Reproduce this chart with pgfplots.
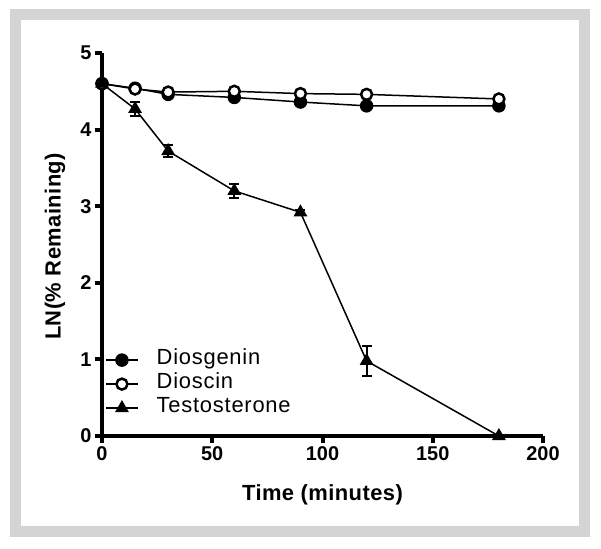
\documentclass[border=0pt]{standalone}
\usepackage{fontspec}
\setmainfont{Liberation Sans}
\newfontfamily\legfont[LetterSpace=3.5]{Liberation Sans}
\newfontfamily\labfont[LetterSpace=2]{Liberation Sans}
\usepackage{pgfplots}
\pgfplotsset{compat=1.18}
\definecolor{framegray}{RGB}{212,212,213}
\begin{document}
\begin{tikzpicture}
\fill[white] (-102bp,-113bp) rectangle (499bp,436bp);
\draw[framegray, line width=11bp] (-86.5bp,-95.5bp) rectangle (482.5bp,421.5bp);
\begin{axis}[
  at={(0,0)}, anchor=south west,
  scale only axis, width=441bp, height=383bp,
  xmin=0, xmax=200, ymin=0, ymax=5,
  clip=false,
  axis x line*=bottom, axis y line*=left,
  axis line style={line width=4bp, -},
  xtick={0,50,100,150,200}, ytick={0,1,2,3,4,5},
  tick align=outside, major tick length=7bp,
  every tick/.style={black, line width=4bp},
  /pgf/number format/assume math mode=true,
  ticklabel style={font=\fontsize{20}{24}\selectfont\bfseries},
  xlabel={Time (minutes)}, ylabel={LN(\% Remaining)},
  label style={font=\labfont\fontsize{22}{26}\selectfont\bfseries},
  xlabel style={at={(axis description cs:0.5,-0.154)}, anchor=center},
  ylabel style={at={(axis description cs:-0.1066,0.495)}, anchor=center, rotate=0},
  legend image code/.code={\draw[mark repeat=2,mark phase=2,#1] plot coordinates {(0bp,0bp) (16bp,0bp) (32bp,0bp)};},
  legend style={draw=none, fill=none, inner sep=0pt, row sep=0pt,
    at={(axis description cs:0.0068,0.23)}, anchor=north west,
    font=\legfont\fontsize{22}{24}\selectfont,
    nodes={inner sep=0pt, text height=16bp, text depth=8bp},
    /tikz/every odd column/.append style={column sep=18bp}},
  legend cell align=left,
]
\addplot[black, line width=1.5bp, mark=*, mark size=6bp]
  coordinates {(0,4.6)(15,4.54)(30,4.46)(60,4.42)(90,4.36)(120,4.31)(180,4.31)};
\addplot[black, line width=1.5bp, mark=*, mark size=5.5bp, mark options={fill=white, line width=2.5bp}]
  coordinates {(0,4.6)(15,4.53)(30,4.49)(60,4.50)(90,4.47)(120,4.46)(180,4.40)};
\addplot[black, line width=1.5bp, mark=triangle*, mark size=6.5bp,
  error bars/.cd, y dir=both, y explicit,
  error bar style={line width=2bp},
  error mark options={rotate=90, mark size=5bp, line width=2bp}]
  coordinates {(0,4.6) +- (0,0) (15,4.27) +- (0,0.09) (30,3.72) +- (0,0.08)
    (60,3.20) +- (0,0.09) (90,2.92) +- (0,0.03) (120,0.98) +- (0,0.2) (180,0.0) +- (0,0)};
\legend{Diosgenin, Dioscin, Testosterone}
\end{axis}
\end{tikzpicture}
\end{document}
